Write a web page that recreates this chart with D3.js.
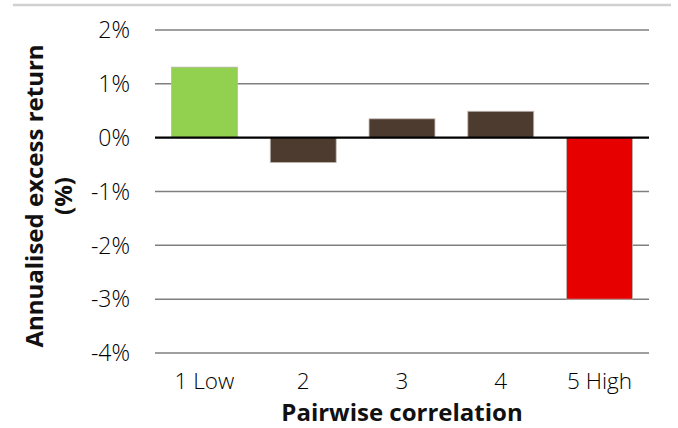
<!DOCTYPE html>
<html>
<head>
<meta charset="utf-8">
<script src="https://cdn.jsdelivr.net/npm/d3@7"></script>
<style>
  html, body { margin: 0; padding: 0; background: #fff; }
  svg text { font-family: "Open Sans", "Noto Sans", sans-serif; }
</style>
</head>
<body>
<svg id="chart" width="678" height="428"></svg>
<script>
const categories = ["1 Low", "2", "3", "4", "5 High"];
const values = [1.31, -0.46, 0.35, 0.49, -3.0];
const barColors = ["#92d050", "#4e3b2f", "#4e3b2f", "#4e3b2f", "#e60000"];
const yTicks = [2, 1, 0, -1, -2, -3, -4];
const yTitleLines = ["Annualised excess return", "(%)"];
const xTitle = "Pairwise correlation";

const svg = d3.select("#chart");
const plotLeft = 155, plotRight = 649, plotTop = 30, plotBottom = 353;

const x = d3.scaleBand().domain(categories).range([plotLeft, plotRight]).paddingInner(0.333).paddingOuter(0.167);
const y = d3.scaleLinear().domain([-4, 2]).range([plotBottom, plotTop]);

// top decorative line
svg.append("line").attr("x1", 13).attr("x2", 671).attr("y1", 5).attr("y2", 5)
  .attr("stroke", "#d0d0d0").attr("stroke-width", 2.5);

// gridlines
svg.append("g").selectAll("line").data(yTicks.filter(d => d !== 0)).join("line")
  .attr("x1", plotLeft).attr("x2", plotRight)
  .attr("y1", d => y(d)).attr("y2", d => y(d))
  .attr("stroke", "#7f7f7f").attr("stroke-width", 1.5);

// y tick labels
svg.append("g").selectAll("text").data(yTicks).join("text")
  .attr("x", 130).attr("y", d => y(d)).attr("dy", "0.36em")
  .attr("text-anchor", "end").attr("font-size", 23).attr("font-weight", 300).attr("fill", "#000")
  .text(d => d + "%");

// bars
svg.append("g").selectAll("rect").data(values).join("rect")
  .attr("x", (d, i) => x(categories[i]))
  .attr("width", x.bandwidth())
  .attr("y", d => y(Math.max(0, d)))
  .attr("height", d => Math.abs(y(d) - y(0)))
  .attr("fill", (d, i) => barColors[i])
  .attr("stroke", "#bdb5ae").attr("stroke-width", 0.8);

// zero line
svg.append("line").attr("x1", plotLeft).attr("x2", plotRight).attr("y1", y(0)).attr("y2", y(0))
  .attr("stroke", "#000").attr("stroke-width", 2.2);

// x category labels
svg.append("g").selectAll("text").data(categories).join("text")
  .attr("x", d => x(d) + x.bandwidth() / 2).attr("y", 389)
  .attr("text-anchor", "middle").attr("font-size", 22.5).attr("font-weight", 300).attr("fill", "#000")
  .text(d => d);

// x title
svg.append("text").attr("x", 402).attr("y", 421).attr("text-anchor", "middle")
  .attr("font-size", 24).attr("font-weight", "bold").attr("fill", "#111")
  .text(xTitle);

// y title
const yt = svg.append("text").attr("transform", "translate(43,196) rotate(-90)")
  .attr("text-anchor", "middle").attr("font-size", 24).attr("font-weight", "bold").attr("fill", "#111");
yTitleLines.forEach((t, i) => {
  yt.append("tspan").attr("x", 0).attr("y", i * 29).text(t);
});
</script>
</body>
</html>
